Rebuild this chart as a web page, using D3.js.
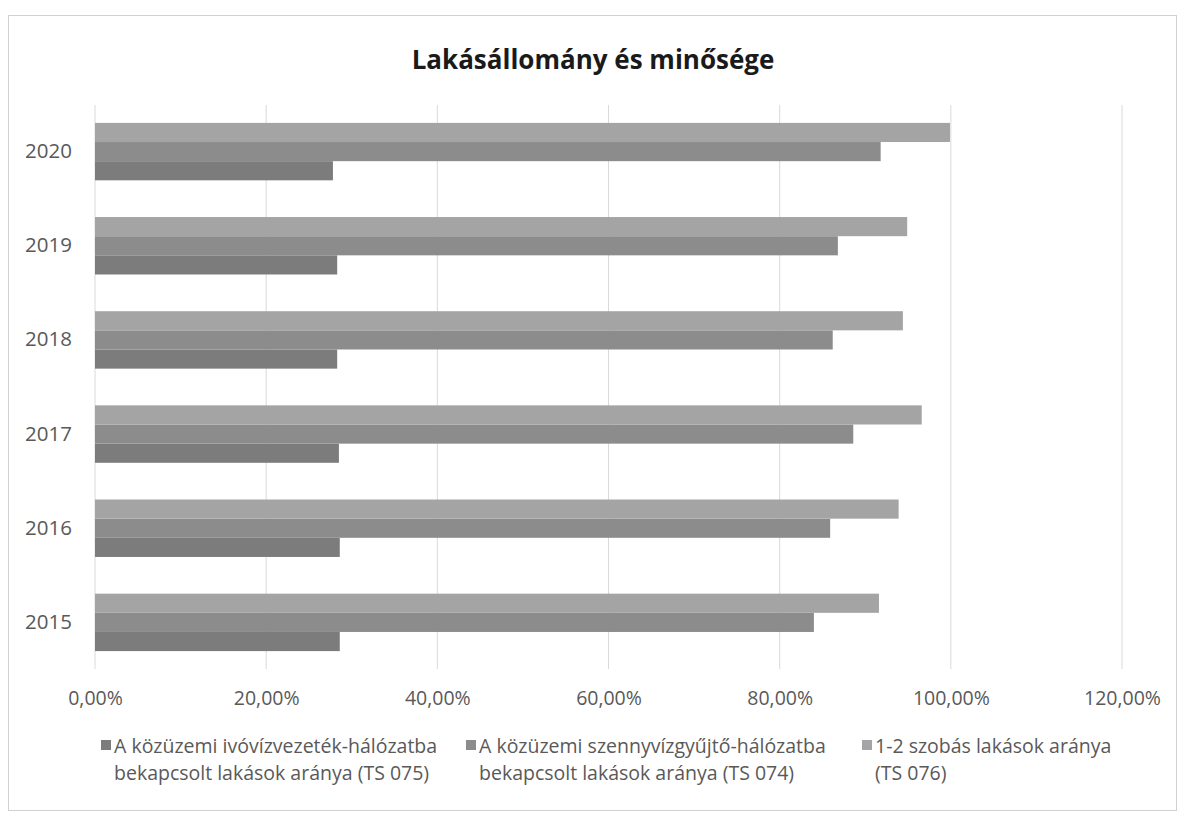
<!DOCTYPE html>
<html><head><meta charset="utf-8">
<script src="https://cdn.jsdelivr.net/npm/d3@7"></script>
<style>body{margin:0;background:#fff}</style>
</head><body><svg id="c" width="1182" height="814"></svg>
<script>
const years = ["2015","2016","2017","2018","2019","2020"];
const seriesNames = [
  ["A közüzemi ivóvízvezeték-hálózatba","bekapcsolt lakások aránya (TS 075)"],
  ["A közüzemi szennyvízgyűjtő-hálózatba","bekapcsolt lakások aránya (TS 074)"],
  ["1-2 szobás lakások aránya","(TS 076)"]
];
const s1 = [0.286, 0.286, 0.285, 0.283, 0.283, 0.278];
const s2 = [0.840, 0.859, 0.886, 0.862, 0.868, 0.918];
const s3 = [0.916, 0.939, 0.966, 0.944, 0.949, 0.999];
const xTicks = [0,0.2,0.4,0.6,0.8,1.0,1.2];
const colors = ["#7c7c7c","#8c8c8c","#a4a4a4"];

const svg = d3.select("#c");
const font = "'Open Sans', Lato, sans-serif";
svg.append("rect").attr("x",8.5).attr("y",15.5).attr("width",1168).attr("height",795)
  .attr("fill","none").attr("stroke","#d0d0d0");

const x = d3.scaleLinear().domain([0,1.2]).range([95,1122]);
const y = d3.scaleBand().domain(years.slice().reverse()).range([105,669]).paddingInner(0.39).paddingOuter(0.19);
const sub = d3.scaleBand().domain([2,1,0]).range([0,y.bandwidth()]);

// gridlines
svg.append("g").selectAll("line").data(xTicks).join("line")
  .attr("x1",d=>x(d)).attr("x2",d=>x(d)).attr("y1",105).attr("y2",669)
  .attr("stroke","#dadada").attr("stroke-width",1);

const data = [s1,s2,s3];
data.forEach((arr,si)=>{
  svg.append("g").selectAll("rect").data(years).join("rect")
    .attr("x",x(0)).attr("y",(d)=>y(d)+sub(si))
    .attr("width",(d,i)=>x(arr[i])-x(0)).attr("height",sub.bandwidth())
    .attr("fill",colors[si]);
});

// axes
const fmt = d=> d3.format(".2f")(d*100).replace(".",",")+"%";
const xa = svg.append("g").attr("transform","translate(0,669)")
  .call(d3.axisBottom(x).tickValues(xTicks).tickFormat(fmt).tickSize(0).tickPadding(22));
xa.select(".domain").remove();
xa.selectAll("text").attr("font-family",font).attr("font-size",19.5).attr("fill","#595959");

const ya = svg.append("g").attr("transform","translate(95,0)")
  .call(d3.axisLeft(y).tickSize(0).tickPadding(23));
ya.select(".domain").remove();
ya.selectAll("text").attr("font-family",font).attr("font-size",20.5).attr("fill","#595959");

svg.append("text").attr("x",593).attr("y",69).attr("text-anchor","middle")
  .attr("font-family",font).attr("font-weight","bold").attr("font-size",26).attr("fill","#1a1a1a")
  .text("Lakásállomány és minősége");

// legend
const lx = [101,466,862];
seriesNames.forEach((nm,i)=>{
  const g = svg.append("g");
  g.append("rect").attr("x",lx[i]).attr("y",740).attr("width",10).attr("height",10).attr("fill",colors[i]);
  nm.forEach((t,j)=>{
    g.append("text").attr("x",lx[i]+13).attr("y",753+j*27)
      .attr("font-family",font).attr("font-size",19.5).attr("fill","#595959").text(t);
  });
});
</script></body></html>
